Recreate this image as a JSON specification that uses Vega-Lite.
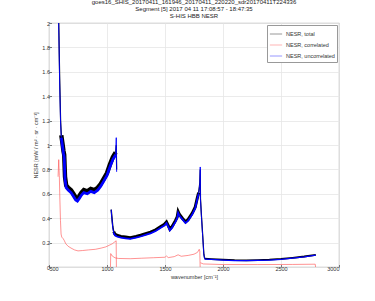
{
  "$schema": "https://vega.github.io/schema/vega-lite/v6.json",
  "width": 290,
  "height": 244,
  "autosize": {"type": "none"},
  "padding": {"left": 49, "top": 23, "right": 36, "bottom": 34},
  "background": "white",
  "title": {
    "text": ["goes16_SHIS_20170411_161946_20170411_220220_sdr20170411T224336", "Segment [5] 2017 04 11 17:08:57 - 18:47:35", "S-HIS HBB NESR"],
    "fontSize": 6,
    "fontWeight": "normal",
    "anchor": "middle",
    "offset": 2,
    "lineHeight": 6.8,
    "color": "#222222"
  },
  "datasets": {
    "m": [
      {"b": 11, "wn": 575, "u": 2.4, "t": 2.45},
      {"b": 11, "wn": 585, "u": 1.9, "t": 1.95},
      {"b": 11, "wn": 592, "u": 1.5, "t": 1.55},
      {"b": 11, "wn": 600, "u": 1.18, "t": 1.2},
      {"b": 11, "wn": 606, "u": 1.06, "t": 1.08},
      {"b": 1, "wn": 606, "u": 1.06, "t": 1.08},
      {"b": 1, "wn": 615, "u": 1.0, "t": 1.02},
      {"b": 1, "wn": 625, "u": 0.93, "t": 0.95},
      {"b": 1, "wn": 631, "u": 0.9, "t": 0.92},
      {"b": 1, "wn": 638, "u": 0.72, "t": 0.74},
      {"b": 1, "wn": 648, "u": 0.65, "t": 0.67},
      {"b": 1, "wn": 665, "u": 0.63, "t": 0.65},
      {"b": 1, "wn": 690, "u": 0.61, "t": 0.63},
      {"b": 1, "wn": 710, "u": 0.58, "t": 0.6},
      {"b": 1, "wn": 730, "u": 0.55, "t": 0.57},
      {"b": 1, "wn": 745, "u": 0.54, "t": 0.56},
      {"b": 1, "wn": 760, "u": 0.56, "t": 0.58},
      {"b": 1, "wn": 780, "u": 0.59, "t": 0.61},
      {"b": 1, "wn": 800, "u": 0.61, "t": 0.63},
      {"b": 1, "wn": 830, "u": 0.6, "t": 0.62},
      {"b": 1, "wn": 860, "u": 0.62, "t": 0.64},
      {"b": 1, "wn": 890, "u": 0.61, "t": 0.63},
      {"b": 1, "wn": 920, "u": 0.63, "t": 0.65},
      {"b": 1, "wn": 945, "u": 0.66, "t": 0.68},
      {"b": 1, "wn": 970, "u": 0.7, "t": 0.72},
      {"b": 1, "wn": 1000, "u": 0.75, "t": 0.77},
      {"b": 1, "wn": 1025, "u": 0.82, "t": 0.84},
      {"b": 1, "wn": 1050, "u": 0.88, "t": 0.9},
      {"b": 1, "wn": 1075, "u": 0.92, "t": 0.94},
      {"b": 12, "wn": 1075, "u": 0.92, "t": 0.94},
      {"b": 12, "wn": 1080, "u": 1.06, "t": 1.0},
      {"b": 12, "wn": 1083, "u": 0.78, "t": 0.8},
      {"b": 21, "wn": 1036, "u": 0.47, "t": 0.47},
      {"b": 21, "wn": 1042, "u": 0.4, "t": 0.41},
      {"b": 21, "wn": 1050, "u": 0.32, "t": 0.33},
      {"b": 21, "wn": 1058, "u": 0.28, "t": 0.29},
      {"b": 2, "wn": 1058, "u": 0.28, "t": 0.29},
      {"b": 2, "wn": 1068, "u": 0.26, "t": 0.27},
      {"b": 2, "wn": 1085, "u": 0.25, "t": 0.26},
      {"b": 2, "wn": 1120, "u": 0.24, "t": 0.25},
      {"b": 2, "wn": 1160, "u": 0.235, "t": 0.245},
      {"b": 2, "wn": 1200, "u": 0.23, "t": 0.24},
      {"b": 2, "wn": 1250, "u": 0.24, "t": 0.25},
      {"b": 2, "wn": 1290, "u": 0.25, "t": 0.26},
      {"b": 2, "wn": 1340, "u": 0.265, "t": 0.275},
      {"b": 2, "wn": 1375, "u": 0.276, "t": 0.286},
      {"b": 2, "wn": 1420, "u": 0.295, "t": 0.305},
      {"b": 2, "wn": 1460, "u": 0.32, "t": 0.33},
      {"b": 2, "wn": 1495, "u": 0.34, "t": 0.35},
      {"b": 2, "wn": 1513, "u": 0.36, "t": 0.37},
      {"b": 2, "wn": 1528, "u": 0.33, "t": 0.34},
      {"b": 2, "wn": 1542, "u": 0.3, "t": 0.31},
      {"b": 2, "wn": 1560, "u": 0.32, "t": 0.33},
      {"b": 2, "wn": 1590, "u": 0.37, "t": 0.38},
      {"b": 2, "wn": 1605, "u": 0.4, "t": 0.41},
      {"b": 2, "wn": 1613, "u": 0.445, "t": 0.455},
      {"b": 2, "wn": 1625, "u": 0.42, "t": 0.43},
      {"b": 2, "wn": 1650, "u": 0.39, "t": 0.4},
      {"b": 2, "wn": 1677, "u": 0.36, "t": 0.37},
      {"b": 2, "wn": 1700, "u": 0.38, "t": 0.39},
      {"b": 2, "wn": 1734, "u": 0.43, "t": 0.44},
      {"b": 2, "wn": 1760, "u": 0.48, "t": 0.49},
      {"b": 2, "wn": 1777, "u": 0.55, "t": 0.56},
      {"b": 2, "wn": 1790, "u": 0.6, "t": 0.61},
      {"b": 22, "wn": 1790, "u": 0.6, "t": 0.61},
      {"b": 22, "wn": 1800, "u": 0.68, "t": 0.69},
      {"b": 22, "wn": 1804, "u": 0.82, "t": 0.8},
      {"b": 22, "wn": 1806, "u": 0.55, "t": 0.56},
      {"b": 22, "wn": 1815, "u": 0.4, "t": 0.41},
      {"b": 22, "wn": 1825, "u": 0.25, "t": 0.26},
      {"b": 22, "wn": 1835, "u": 0.1, "t": 0.105},
      {"b": 22, "wn": 1842, "u": 0.065, "t": 0.068},
      {"b": 3, "wn": 1842, "u": 0.065, "t": 0.068},
      {"b": 3, "wn": 1900, "u": 0.062, "t": 0.065},
      {"b": 3, "wn": 2000, "u": 0.057, "t": 0.06},
      {"b": 3, "wn": 2100, "u": 0.053, "t": 0.056},
      {"b": 3, "wn": 2200, "u": 0.052, "t": 0.055},
      {"b": 3, "wn": 2300, "u": 0.054, "t": 0.057},
      {"b": 3, "wn": 2400, "u": 0.057, "t": 0.06},
      {"b": 3, "wn": 2500, "u": 0.063, "t": 0.066},
      {"b": 3, "wn": 2600, "u": 0.072, "t": 0.075},
      {"b": 3, "wn": 2700, "u": 0.083, "t": 0.086},
      {"b": 3, "wn": 2800, "u": 0.097, "t": 0.1}
    ],
    "c": [
      {"b": 1, "wn": 578, "v": 0.74},
      {"b": 1, "wn": 584, "v": 0.88},
      {"b": 1, "wn": 589, "v": 0.75},
      {"b": 1, "wn": 594, "v": 0.55},
      {"b": 1, "wn": 599, "v": 0.38},
      {"b": 1, "wn": 604, "v": 0.27},
      {"b": 1, "wn": 610, "v": 0.245},
      {"b": 1, "wn": 620, "v": 0.235},
      {"b": 1, "wn": 630, "v": 0.22},
      {"b": 1, "wn": 645, "v": 0.19},
      {"b": 1, "wn": 665, "v": 0.17},
      {"b": 1, "wn": 690, "v": 0.155},
      {"b": 1, "wn": 720, "v": 0.14},
      {"b": 1, "wn": 750, "v": 0.132},
      {"b": 1, "wn": 790, "v": 0.135},
      {"b": 1, "wn": 840, "v": 0.14},
      {"b": 1, "wn": 900, "v": 0.145},
      {"b": 1, "wn": 950, "v": 0.155},
      {"b": 1, "wn": 990, "v": 0.165},
      {"b": 1, "wn": 1045, "v": 0.19},
      {"b": 1, "wn": 1079, "v": 0.215},
      {"b": 1, "wn": 1081, "v": 0},
      {"b": 2, "wn": 1030, "v": 0},
      {"b": 2, "wn": 1032, "v": 0.11},
      {"b": 2, "wn": 1045, "v": 0.09},
      {"b": 2, "wn": 1070, "v": 0.075},
      {"b": 2, "wn": 1100, "v": 0.07},
      {"b": 2, "wn": 1200, "v": 0.068},
      {"b": 2, "wn": 1300, "v": 0.072},
      {"b": 2, "wn": 1400, "v": 0.076},
      {"b": 2, "wn": 1500, "v": 0.08},
      {"b": 2, "wn": 1513, "v": 0.09},
      {"b": 2, "wn": 1528, "v": 0.077},
      {"b": 2, "wn": 1580, "v": 0.085},
      {"b": 2, "wn": 1613, "v": 0.1},
      {"b": 2, "wn": 1640, "v": 0.088},
      {"b": 2, "wn": 1700, "v": 0.095},
      {"b": 2, "wn": 1750, "v": 0.105},
      {"b": 2, "wn": 1780, "v": 0.12},
      {"b": 2, "wn": 1795, "v": 0.145},
      {"b": 2, "wn": 1800, "v": 0.13},
      {"b": 2, "wn": 1803, "v": 0},
      {"b": 3, "wn": 1805, "v": 0.035},
      {"b": 3, "wn": 1830, "v": 0.025},
      {"b": 3, "wn": 2000, "v": 0.02},
      {"b": 3, "wn": 2300, "v": 0.02},
      {"b": 3, "wn": 2600, "v": 0.021},
      {"b": 3, "wn": 2795, "v": 0.023},
      {"b": 3, "wn": 2798, "v": 0}
    ]
  },
  "encoding": {
    "x": {
      "field": "wn",
      "type": "quantitative",
      "scale": {"domain": [500, 3000], "nice": false},
      "axis": {"values": [500, 1000, 1500, 2000, 2500, 3000], "format": "d", "title": "wavenumber [cm⁻¹]", "titlePadding": 2}
    }
  },
  "layer": [
    {
      "data": {"name": "m"},
      "mark": {"type": "line", "clip": true, "interpolate": "linear"},
      "encoding": {
        "y": {
          "field": "t",
          "type": "quantitative",
          "scale": {"domain": [0, 2], "nice": false},
          "axis": {"values": [0, 0.2, 0.4, 0.6, 0.8, 1, 1.2, 1.4, 1.6, 1.8, 2], "format": ".1~f", "title": "NESR [mW / m² · sr · cm⁻¹]", "titlePadding": 3, "labelOverlap": false}
        },
        "detail": {"field": "b"},
        "order": {"field": "wn"},
        "color": {"datum": "NESR, total"},
        "strokeWidth": {"field": "b", "type": "nominal", "scale": {"type": "ordinal", "domain": [1, 2, 3, 11, 12, 21, 22], "range": [4.4, 3.0, 1.8, 1.2, 1.2, 1.4, 1.2]}, "legend": null}
      }
    },
    {
      "data": {"name": "c"},
      "mark": {"type": "line", "clip": true, "strokeWidth": 0.8, "opacity": 0.75},
      "encoding": {
        "y": {
          "field": "v",
          "type": "quantitative",
          "scale": {"domain": [0, 2], "nice": false},
          "axis": {"values": [0, 0.2, 0.4, 0.6, 0.8, 1, 1.2, 1.4, 1.6, 1.8, 2], "format": ".1~f", "title": "NESR [mW / m² · sr · cm⁻¹]", "titlePadding": 3, "labelOverlap": false}
        },
        "detail": {"field": "b"},
        "order": {"field": "wn"},
        "color": {"datum": "NESR, correlated"}
      }
    },
    {
      "data": {"name": "m"},
      "mark": {"type": "line", "clip": true},
      "encoding": {
        "y": {
          "field": "u",
          "type": "quantitative",
          "scale": {"domain": [0, 2], "nice": false},
          "axis": {"values": [0, 0.2, 0.4, 0.6, 0.8, 1, 1.2, 1.4, 1.6, 1.8, 2], "format": ".1~f", "title": "NESR [mW / m² · sr · cm⁻¹]", "titlePadding": 3, "labelOverlap": false}
        },
        "detail": {"field": "b"},
        "order": {"field": "wn"},
        "color": {"datum": "NESR, uncorrelated"},
        "strokeWidth": {"field": "b", "type": "nominal", "scale": {"type": "ordinal", "domain": [1, 2, 3, 11, 12, 21, 22], "range": [2.8, 1.8, 1.3, 0.9, 0.9, 1.0, 0.9]}, "legend": null}
      }
    }
  ],
  "resolve": {"scale": {"strokeWidth": "independent"}},
  "config": {
    "font": "Liberation Sans",
    "view": {"stroke": "#9a9a9a", "strokeWidth": 0.8},
    "axis": {
      "domain": false,
      "grid": true,
      "gridColor": "#e6e6e6",
      "gridWidth": 0.8,
      "labelFontSize": 5.5,
      "labelColor": "#333333",
      "labelOverlap": false,
      "titleFontSize": 5.5,
      "titleFontWeight": "normal",
      "titleColor": "#333333",
      "tickColor": "#777777",
      "tickSize": -2.5,
      "labelPadding": 2
    },
    "scale": {"color": {"domain": ["NESR, total", "NESR, correlated", "NESR, uncorrelated"]}},
    "range": {"category": ["#000000", "#ff4a4a", "#0000ff"]},
    "legend": {
      "orient": "top-right",
      "offset": 2,
      "title": null,
      "padding": 2,
      "fillColor": "white",
      "strokeColor": "#999999",
      "labelFontSize": 5.5,
      "labelColor": "#333333",
      "symbolType": "stroke",
      "symbolSize": 150,
      "symbolStrokeWidth": 0.8,
      "symbolOpacity": 0.5,
      "rowPadding": -5,
      "labelOffset": 3,
      "labelLimit": 80
    }
  }
}
